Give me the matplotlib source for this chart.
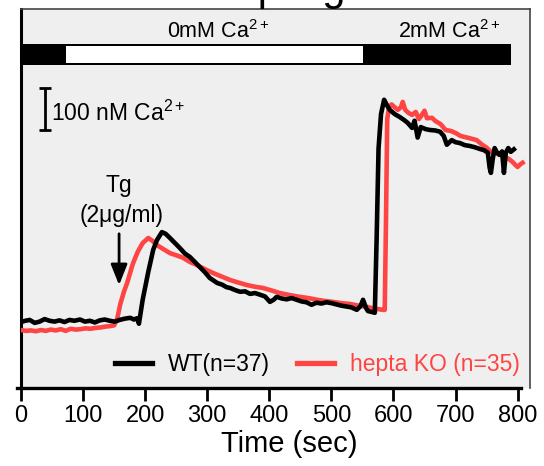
import matplotlib
matplotlib.use('Agg')
import matplotlib.pyplot as plt
from matplotlib.patches import Rectangle
from matplotlib.lines import Line2D

plt.rcParams['font.family'] = ['Liberation Sans', 'DejaVu Sans']
plt.rcParams['mathtext.fontset'] = 'custom'
plt.rcParams['mathtext.rm'] = 'Liberation Sans'
plt.rcParams['mathtext.it'] = 'Liberation Sans:italic'
plt.rcParams['mathtext.bf'] = 'Liberation Sans:bold'

# ---------------- data (time in s, Ca2+ in nM, relative) ----------------
wt_time = [0, 7, 14, 22, 30, 38, 46, 54, 62, 70, 78, 86, 95, 103, 111, 119, 127, 135, 143, 151,
           159, 167, 176, 182, 187, 190, 196, 205, 213, 219, 227, 233, 240, 248, 256, 264, 272,
           280, 288, 296, 304, 309, 316, 324, 331, 337, 345, 353, 361, 369, 377, 385, 393, 401,
           407, 412, 420, 428, 436, 444, 452, 460, 468, 476, 484, 492, 500, 508, 516, 524, 532,
           541, 547, 551, 556, 559, 565, 570, 573, 576, 580, 585, 590, 594, 602, 610, 617, 623,
           630, 634, 639, 644, 652, 659, 667, 675, 681, 686, 694, 700, 707, 715, 723, 731, 739,
           746, 752, 755, 757, 760, 763, 767, 771, 775, 778, 781, 785, 789, 794]
wt_ca = [157, 160, 162, 155, 158, 164, 160, 158, 161, 157, 162, 160, 163, 158, 160, 156, 161, 163,
         160, 158, 162, 165, 167, 163, 166, 153, 210, 276, 329, 352, 371, 367, 357, 345, 333, 320,
         312, 300, 288, 276, 262, 257, 250, 246, 240, 238, 233, 229, 230, 224, 226, 222, 218, 205,
         210, 217, 213, 211, 214, 210, 206, 204, 198, 203, 201, 204, 202, 199, 196, 194, 192, 186,
         195, 210, 190, 183, 181, 179, 360, 570, 652, 686, 672, 662, 652, 645, 638, 631, 619, 636,
         596, 621, 616, 614, 613, 610, 600, 579, 590, 585, 583, 578, 576, 573, 569, 566, 560, 524,
         512, 545, 571, 560, 555, 563, 512, 560, 571, 562, 568]

ko_time = [0, 8, 16, 24, 32, 40, 48, 56, 64, 72, 80, 88, 96, 104, 112, 120, 128, 135, 142, 150,
           155, 160, 166, 171, 176, 180, 188, 196, 205, 212, 219, 230, 240, 250, 261, 272, 283,
           296, 309, 322, 337, 350, 364, 377, 390, 404, 417, 433, 449, 463, 477, 490, 502, 516,
           530, 544, 557, 570, 583, 586, 588, 590, 593, 597, 602, 607, 612, 615, 619, 624, 630,
           636, 641, 645, 650, 654, 662, 668, 676, 684, 692, 700, 708, 716, 724, 734, 742, 750,
           757, 765, 772, 779, 786, 792, 797, 800, 804, 808]
ko_ca = [138, 136, 137, 135, 138, 136, 139, 137, 140, 136, 141, 139, 140, 142, 141, 143, 144, 146,
         147, 149, 165, 200, 230, 250, 275, 295, 324, 345, 357, 350, 340, 330, 321, 316, 310, 300,
         293, 283, 274, 266, 257, 251, 245, 241, 238, 232, 226, 221, 217, 214, 210, 207, 205, 202,
         200, 196, 193, 189, 186, 186, 400, 640, 668, 675, 668, 662, 668, 681, 662, 655, 650, 657,
         640, 648, 660, 642, 643, 635, 628, 614, 612, 607, 600, 597, 594, 590, 580, 572, 562, 558,
         555, 550, 545, 538, 530, 526, 532, 536]

series_labels = ['WT(n=37)', 'hepta KO (n=35)']
series_colors = ['black', '#ff4444']
solution_labels = ['0mM Ca$^{2+}$', '2mM Ca$^{2+}$']
zero_ca_period = [72, 551]      # s, Ca2+-free perfusion (white part of bar)
record_end = 789                # s, end of perfusion bar
tg_time = 158                   # s, thapsigargin addition
scale_nM = 100
x_ticks = [0, 100, 200, 300, 400, 500, 600, 700, 800]

# ---------------- figure ----------------
fig = plt.figure(figsize=(5.44, 4.66), dpi=100)
ax = fig.add_axes([21 / 544, 1 - 388 / 466, (530 - 21) / 544, (388 - 9) / 466])
ax.set_facecolor('#efefef')
ax.set_xlim(0, 820)
ax.set_ylim(0, 902)

ax.plot(ko_time, ko_ca, color=series_colors[1], lw=3.3, solid_joinstyle='round', zorder=3)
ax.plot(wt_time, wt_ca, color=series_colors[0], lw=3.3, solid_joinstyle='round', zorder=4)

# perfusion bar
ax.add_patch(Rectangle((0, 768), record_end, 51, facecolor='black', edgecolor='none', zorder=2))
ax.add_patch(Rectangle((zero_ca_period[0], 774), zero_ca_period[1] - zero_ca_period[0], 39,
                       facecolor='white', edgecolor='none', zorder=2))
ax.text(318, 833, solution_labels[0], ha='center', va='baseline', fontsize=15.5)
ax.text(690, 833, solution_labels[1], ha='center', va='baseline', fontsize=15.5)

# scale bar
ax.errorbar([38], [664], yerr=[scale_nM / 2], color='black', lw=2, capsize=4, capthick=2)
ax.text(48, 636, '100 nM Ca$^{2+}$', ha='left', va='baseline', fontsize=16.5)

# Tg arrow
ax.text(158, 466, 'Tg', ha='center', va='baseline', fontsize=16.5)
ax.text(162, 395, '(2\u03bcg/ml)', ha='center', va='baseline', fontsize=16.5)
ax.annotate('', xy=(tg_time, 245), xytext=(tg_time, 367),
            arrowprops=dict(arrowstyle='-|>,head_length=0.5,head_width=0.2', lw=2,
                            color='black', mutation_scale=25, shrinkA=0, shrinkB=0))

# legend
handles = [Line2D([], [], color=c, lw=3.8) for c in series_colors]
ax.legend(handles, series_labels, loc='center right', bbox_to_anchor=(0.98, 0.061),
          ncol=2, frameon=False, fontsize=16.5, handlelength=1.6, handletextpad=0.7,
          columnspacing=1.2, borderpad=0, borderaxespad=0, labelcolor=series_colors)

# axes styling
for s in ['top', 'right']:
    ax.spines[s].set_color('#444444')
    ax.spines[s].set_linewidth(1.2)
ax.spines['left'].set_color('black')
ax.spines['left'].set_linewidth(2.2)
ax.spines['bottom'].set_linewidth(2.4)
ax.spines['bottom'].set_bounds(-6, 806)
ax.set_yticks([])
ax.set_xticks(x_ticks)
ax.tick_params(axis='x', length=9, width=2, labelsize=17, pad=3)
ax.set_xlabel('Time (sec)', fontsize=21)
ax.xaxis.set_label_coords(0.527, -0.112)

# cut-off title at the top of the canvas (only descenders visible)
fig.text(61 / 544, 1.0, 'SOCE coupling', fontsize=30, ha='left', va='baseline')

fig.savefig('out.png', dpi=100)
